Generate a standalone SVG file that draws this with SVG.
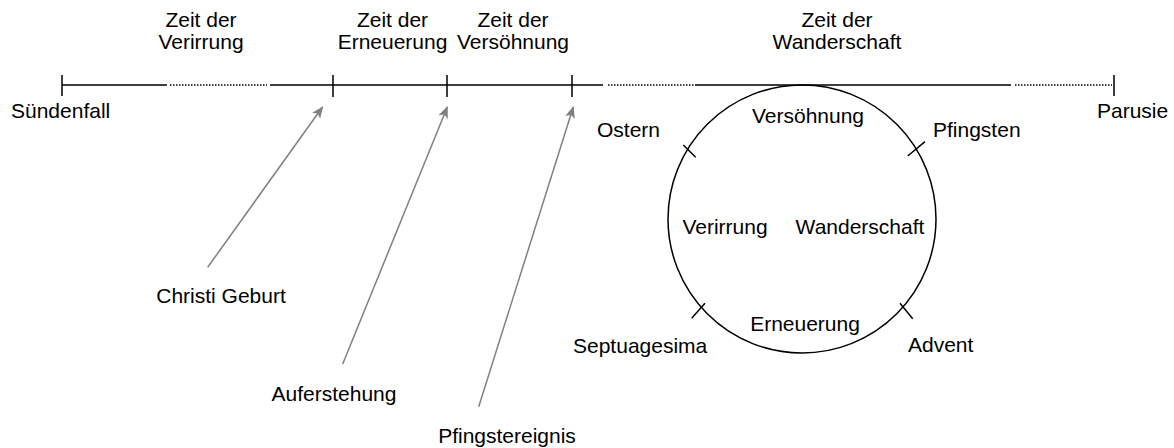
<svg xmlns="http://www.w3.org/2000/svg" width="1174" height="448" viewBox="0 0 1174 448">
<style>
text{font-family:"Liberation Sans",Arial,Helvetica,sans-serif;font-size:21px;fill:#000}
.m{text-anchor:middle}
.tl{stroke:#000;stroke-width:1.5;fill:none}
.dot{stroke:#000;stroke-width:1.5;stroke-dasharray:1.5 1.5;fill:none}
.arr{stroke:#808080;stroke-width:1.5;fill:none;marker-end:url(#ah)}
</style>
<defs>
<marker id="ah" viewBox="0 0 12 10" refX="11" refY="5" markerWidth="12" markerHeight="10" markerUnits="userSpaceOnUse" orient="auto">
<path d="M0,0 L12,5 L0,10 L3,5 Z" fill="#808080"/>
</marker>
</defs>
<g id="headers">
<text class="m" x="201" y="26.5">Zeit der</text>
<text class="m" x="201" y="48.5">Verirrung</text>
<text class="m" x="392.5" y="26.5">Zeit der</text>
<text class="m" x="392.5" y="48.5">Erneuerung</text>
<text class="m" x="513" y="26.5">Zeit der</text>
<text class="m" x="513" y="48.5">Versöhnung</text>
<text class="m" x="837" y="26.5">Zeit der</text>
<text class="m" x="837" y="48.5">Wanderschaft</text>
</g>
<g id="timeline">
<path class="tl" d="M62,85 H167 M270,85 H603 M696,85 H1011"/>
<path class="dot" d="M170,85 H267 M608,85 H696 M1015,85 H1112"/>
<path class="tl" d="M62,75 V96 M333,75 V97 M447,75 V97 M572,75 V97 M1114,75 V96"/>
</g>
<g id="suendenfall"><text x="11" y="118">Sündenfall</text></g>
<g id="parusie"><text x="1097" y="118">Parusie</text></g>
<g id="cycle">
<circle cx="802" cy="219" r="134" class="tl"/>
<path class="tl" d="M683.3,145 L695.7,157.3 M907.7,156 L925,141.7 M691.7,318.3 L705,303.3 M900,303.3 L912.7,318.7"/>
<text class="m" x="808" y="123">Versöhnung</text>
<text class="m" x="725" y="234">Verirrung</text>
<text class="m" x="860" y="234">Wanderschaft</text>
<text class="m" x="805" y="331">Erneuerung</text>
</g>
<g id="ostern"><text x="597" y="137">Ostern</text></g>
<g id="pfingsten"><text x="933" y="137">Pfingsten</text></g>
<g id="septuagesima"><text x="573" y="353">Septuagesima</text></g>
<g id="advent"><text x="908" y="352">Advent</text></g>
<g id="christi-geburt"><text class="m" x="221" y="303">Christi Geburt</text></g>
<g id="auferstehung"><text class="m" x="334" y="401">Auferstehung</text></g>
<g id="pfingstereignis"><text class="m" x="507" y="443">Pfingstereignis</text></g>
<g id="connectors">
<path class="arr" d="M207.7,267.3 L322.5,107"/>
<path class="arr" d="M342.7,364 L447.3,107"/>
<path class="arr" d="M478.7,406.7 L573.3,107"/>
</g>
</svg>
